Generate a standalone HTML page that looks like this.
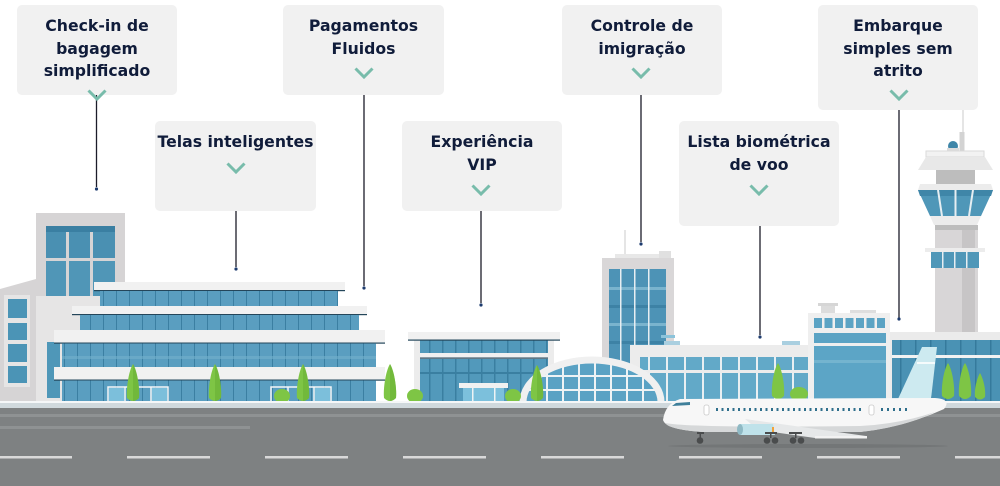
<!DOCTYPE html>
<html><head><meta charset="utf-8">
<style>
html,body{margin:0;padding:0;background:#fff;}
#w{position:relative;width:1000px;height:486px;overflow:hidden;background:#fff;}
#art{position:absolute;left:0;top:0;}
.box{position:absolute;background:#f1f1f1;border-radius:5px;}
.t{position:absolute;font-family:"DejaVu Sans",Verdana,"Liberation Sans",sans-serif;font-weight:bold;font-size:15.7px;line-height:22.5px;color:#101c3a;text-align:center;white-space:nowrap;}
.chev{position:absolute;width:20px;height:12px;}
</style></head>
<body><div id="w">
<svg id="art" width="1000" height="486" viewBox="0 0 1000 486" xmlns="http://www.w3.org/2000/svg">
<defs>
<pattern id="gA" width="13" height="40" patternUnits="userSpaceOnUse"><rect width="13" height="40" fill="#5a9ec0"/><rect x="12" width="1.2" height="40" fill="#3b7fa2"/></pattern>
<pattern id="gB" width="18" height="40" patternUnits="userSpaceOnUse"><rect width="18" height="40" fill="#62a9c8"/><rect width="2" height="40" fill="#e9eff2"/></pattern>
<pattern id="gC" width="15" height="40" patternUnits="userSpaceOnUse"><rect width="15" height="40" fill="#4a92b4"/><rect width="1.5" height="40" fill="#357a9c"/></pattern>
<pattern id="gD" width="13" height="40" patternUnits="userSpaceOnUse"><rect width="13" height="40" fill="#5299bb"/><rect width="1.5" height="40" fill="#3a7fa1"/></pattern>
<clipPath id="domeClip"><path d="M526,402 A66 39 0 0 1 658,402 Z"/></clipPath>
</defs>

<!-- control tower -->
<line x1="963" y1="110" x2="963" y2="133" stroke="#dcdcdc" stroke-width="1.5"/>
<rect x="959.5" y="132" width="5" height="20" fill="#d3d3d3"/>
<circle cx="953" cy="146" r="5" fill="#3f86a8"/>
<rect x="947" y="148" width="12" height="4" fill="#dcdcdc"/>
<rect x="926" y="151" width="58" height="6" fill="#f2f2f2" stroke="#dadada" stroke-width="1"/>
<polygon points="926,157 985,157 993,170 918,170" fill="#e8e8e8"/>
<rect x="936" y="170" width="39" height="14" fill="#bdbdbd"/>
<polygon points="920,184 991,184 993,190 918,190" fill="#ececec"/>
<polygon points="918,190 993,190 981,216 930,216" fill="#4f97b8"/>
<polygon points="918,190 993,190 991,196 920,196" fill="#3f86a8"/>
<line x1="938" y1="190" x2="942" y2="216" stroke="#e6eef2" stroke-width="2"/>
<line x1="955.5" y1="190" x2="955.5" y2="216" stroke="#e6eef2" stroke-width="2"/>
<line x1="973" y1="190" x2="969" y2="216" stroke="#e6eef2" stroke-width="2"/>
<polygon points="930,216 981,216 977,225 934,225" fill="#ececec"/>
<rect x="935" y="225" width="43" height="112" fill="#d8d6d7"/>
<rect x="962" y="230" width="13" height="107" fill="#c7c5c6"/>
<rect x="935" y="225" width="43" height="5" fill="#bdbdbd"/>
<rect x="925" y="248" width="60" height="4" fill="#ececec"/>
<rect x="931" y="252" width="48" height="16" fill="#4f97b8"/>
<rect x="942" y="252" width="1.5" height="16" fill="#e6eef2"/>
<rect x="954" y="252" width="1.5" height="16" fill="#e6eef2"/>
<rect x="966" y="252" width="1.5" height="16" fill="#e6eef2"/>

<!-- tower B -->
<line x1="625" y1="230" x2="625" y2="254" stroke="#dcdcdc" stroke-width="1.5"/>
<rect x="602" y="258" width="72" height="144" fill="#d9d7d8"/>
<rect x="615" y="254" width="44" height="4" fill="#e8e8e8"/>
<rect x="659" y="251" width="12" height="7" fill="#e0e0e0"/>
<rect x="609" y="269" width="57" height="133" fill="#4d93b6"/>
<rect x="609" y="287" width="57" height="3" fill="#7ab4ce"/>
<rect x="609" y="305" width="57" height="3" fill="#3d82a5"/>
<rect x="609" y="323" width="57" height="3" fill="#7ab4ce"/>
<rect x="609" y="341" width="57" height="3" fill="#3d82a5"/>
<rect x="620" y="269" width="1.5" height="133" fill="#e6eef2"/>
<rect x="634" y="269" width="1.5" height="133" fill="#e6eef2"/>
<rect x="648" y="269" width="1.5" height="133" fill="#e6eef2"/>
<rect x="661" y="335" width="14" height="3" fill="#8cc3da"/>

<!-- left small building -->
<polygon points="0,289 36,279 36,402 0,402" fill="#d6d4d5"/>
<rect x="4" y="295" width="26" height="92" fill="#e6e5e5"/>
<rect x="8" y="299" width="19" height="19" fill="#4b94b6"/>
<rect x="8" y="323" width="19" height="17" fill="#4b94b6"/>
<rect x="8" y="344" width="19" height="18" fill="#4b94b6"/>
<rect x="8" y="366" width="19" height="17" fill="#4b94b6"/>

<!-- tower A -->
<rect x="36" y="213" width="89" height="189" fill="#d6d4d5"/>
<rect x="36" y="296" width="64" height="106" fill="#e6e5e5"/>
<rect x="46" y="226" width="20" height="32" fill="#4a90b2"/>
<rect x="69" y="226" width="21" height="32" fill="#4a90b2"/>
<rect x="93" y="226" width="22" height="32" fill="#4a90b2"/>
<rect x="46" y="261" width="20" height="35" fill="#5096b7"/>
<rect x="69" y="261" width="21" height="35" fill="#5096b7"/>
<rect x="93" y="261" width="22" height="35" fill="#5096b7"/>
<rect x="46" y="226" width="69" height="6" fill="#3a7fa2"/>
<rect x="47" y="342" width="13" height="56" fill="#4f97b8"/>

<!-- terrace building -->
<rect x="94" y="282" width="251" height="9" fill="#f1f1f1"/>
<rect x="94" y="290" width="251" height="1.2" fill="#24465a"/>
<rect x="100" y="291" width="238" height="15" fill="url(#gA)"/>
<rect x="72" y="306" width="295" height="9" fill="#f1f1f1"/>
<rect x="72" y="314" width="295" height="1.2" fill="#24465a"/>
<rect x="80" y="315" width="279" height="15" fill="url(#gA)"/>
<rect x="54" y="330" width="331" height="13" fill="#f1f1f1"/>
<rect x="54" y="342.5" width="331" height="1.2" fill="#24465a"/>
<rect x="62" y="343.5" width="314" height="24" fill="url(#gA)"/>
<rect x="62" y="356" width="314" height="3" fill="#73b0cc" opacity="0.6"/>
<rect x="54" y="367" width="331" height="13" fill="#f1f1f1"/>
<rect x="54" y="379.5" width="331" height="1.2" fill="#24465a"/>
<rect x="62" y="380.5" width="314" height="22" fill="url(#gA)"/>
<g fill="none" stroke="#f4f6f7" stroke-width="1.5">
<rect x="108" y="387" width="60" height="16"/><line x1="125" y1="387" x2="125" y2="402"/><line x1="151" y1="387" x2="151" y2="402"/>
<rect x="271" y="387" width="60" height="16"/><line x1="288" y1="387" x2="288" y2="402"/><line x1="314" y1="387" x2="314" y2="402"/>
</g>
<rect x="109" y="388" width="15" height="14" fill="#7cbfdb"/>
<rect x="152" y="388" width="15" height="14" fill="#7cbfdb"/>
<rect x="315" y="388" width="15" height="14" fill="#7cbfdb"/>

<!-- VIP building -->
<rect x="414" y="340" width="140" height="62" fill="#ececec"/>
<rect x="420" y="340" width="128" height="13" fill="url(#gD)"/>
<rect x="420" y="353" width="128" height="5" fill="#f0f0f0"/>
<rect x="420" y="357.5" width="128" height="1.2" fill="#24465a"/>
<rect x="420" y="359" width="128" height="43" fill="url(#gD)"/>
<rect x="420" y="372" width="128" height="2" fill="#3a7fa1"/>
<rect x="408" y="332" width="152" height="8" fill="#f1f1f1"/>
<rect x="408" y="339.5" width="152" height="1.2" fill="#24465a"/>
<rect x="459" y="383" width="49" height="5" fill="#f1f1f1"/>
<rect x="463" y="388" width="41" height="14" fill="#7cc0dc"/>
<rect x="472" y="388" width="1.5" height="14" fill="#eef3f5"/>
<rect x="494" y="388" width="1.5" height="14" fill="#eef3f5"/>

<!-- long building -->
<rect x="630" y="345" width="180" height="57" fill="#ececec"/>
<rect x="640" y="357" width="170" height="13" fill="url(#gB)"/>
<rect x="640" y="373" width="170" height="29" fill="url(#gB)"/>
<rect x="664" y="341" width="16" height="4" fill="#a9cfe0"/>
<rect x="782" y="341" width="18" height="4" fill="#a9cfe0"/>

<!-- center block -->
<rect x="808" y="313" width="82" height="89" fill="#efefef"/>
<rect x="818" y="303" width="20" height="3" fill="#d6d6d6"/>
<rect x="821" y="306" width="14" height="7" fill="#dcdcdc"/>
<rect x="850" y="310" width="26" height="3" fill="#dedede"/>
<g fill="#5ba3c4">
<rect x="814" y="318" width="8" height="10"/><rect x="824.5" y="318" width="8" height="10"/><rect x="835" y="318" width="8" height="10"/><rect x="845.5" y="318" width="8" height="10"/><rect x="856" y="318" width="8" height="10"/><rect x="866.5" y="318" width="8" height="10"/><rect x="877" y="318" width="8" height="10"/>
<rect x="814" y="333" width="72" height="10"/>
</g>
<rect x="814" y="346" width="72" height="56" fill="#5ca5c6"/>
<rect x="814" y="360" width="72" height="3" fill="#7fbad3" opacity="0.7"/>

<!-- right building -->
<rect x="890" y="332" width="110" height="70" fill="#ebebeb"/>
<rect x="892" y="340" width="108" height="15" fill="url(#gC)"/>
<rect x="892" y="355" width="108" height="3" fill="#f2f2f2"/>
<rect x="892" y="358" width="108" height="44" fill="url(#gC)"/>

<!-- dome -->
<g clip-path="url(#domeClip)">
<rect x="520" y="355" width="145" height="48" fill="#5aa2c4"/>
<g fill="#eef3f5">
<rect x="546" y="355" width="2" height="48"/><rect x="562" y="355" width="2" height="48"/><rect x="578" y="355" width="2" height="48"/><rect x="594" y="355" width="2" height="48"/><rect x="610" y="355" width="2" height="48"/><rect x="626" y="355" width="2" height="48"/><rect x="642" y="355" width="2" height="48"/>
<rect x="520" y="375" width="145" height="2"/><rect x="520" y="389" width="145" height="2"/>
</g>
</g>
<path d="M523,402 A69 42 0 0 1 661,402" fill="none" stroke="#f0f0f0" stroke-width="7"/>

<!-- trees -->
<g fill="#7ec545">
<path d="M133,364 C137,370 140,388 139,398 Q133,404 127,398 C126,388 129,370 133,364Z"/>
<path d="M215,364 C219,370 222,388 221,398 Q215,404 209,398 C208,388 211,370 215,364Z"/>
<path d="M303,364 C307,370 310,388 309,398 Q303,404 297,398 C296,388 299,370 303,364Z"/>
<path d="M390,364 C394,370 397,388 396,398 Q390,404 384,398 C383,388 386,370 390,364Z"/>
<path d="M537,365 C541,371 544,388 543,398 Q537,404 531,398 C530,388 533,371 537,365Z"/>
<path d="M778,363 C782,369 785,386 784,396 Q778,402 772,396 C771,386 774,369 778,363Z"/>
<path d="M948,363 C952,369 955,386 954,396 Q948,402 942,396 C941,386 944,369 948,363Z"/>
<path d="M965,363 C969,369 972,386 971,396 Q965,402 959,396 C958,386 961,369 965,363Z"/>
<path d="M980,373 C983,378 986,389 985,397 Q980,402 975,397 C974,389 977,378 980,373Z"/>
<ellipse cx="282" cy="396" rx="8" ry="7"/>
<ellipse cx="415" cy="396" rx="8" ry="7"/>
<ellipse cx="513" cy="396" rx="8" ry="7"/>
<ellipse cx="799" cy="394" rx="9" ry="7"/>
</g>
<g fill="#66ad32" opacity="0.5">
<path d="M133,364 C137,370 140,388 139,398 Q136,401 133,401Z"/>
<path d="M215,364 C219,370 222,388 221,398 Q218,401 215,401Z"/>
<path d="M303,364 C307,370 310,388 309,398 Q306,401 303,401Z"/>
<path d="M390,364 C394,370 397,388 396,398 Q393,401 390,401Z"/>
<path d="M537,365 C541,371 544,388 543,398 Q540,401 537,401Z"/>
</g>

<!-- ground / road -->
<rect x="0" y="401" width="1000" height="2" fill="#f5f7f8"/>
<rect x="0" y="403" width="1000" height="5" fill="#d0d9dd"/>
<rect x="0" y="408" width="1000" height="78" fill="#7e8182"/>
<rect x="0" y="414" width="1000" height="3" fill="#8f9293"/>
<rect x="0" y="426" width="250" height="3" fill="#8f9293"/>
<g fill="#d9d9d9">
<rect x="-11" y="456" width="83" height="2.5"/><rect x="127" y="456" width="83" height="2.5"/><rect x="265" y="456" width="83" height="2.5"/><rect x="403" y="456" width="83" height="2.5"/><rect x="541" y="456" width="83" height="2.5"/><rect x="679" y="456" width="83" height="2.5"/><rect x="817" y="456" width="83" height="2.5"/><rect x="955" y="456" width="83" height="2.5"/>
</g>

<!-- plane -->
<ellipse cx="808" cy="446" rx="140" ry="2" fill="#737677"/>
<polygon points="898,399 922,347 937,347 931,399" fill="#cdeaf0"/>
<rect x="917" y="362" width="18" height="2" fill="#f5fbfc"/>
<path d="M680,399 L935,398 Q952,399 944,409 Q905,427 860,432 L705,432 Q666,430 663,420 Q665,404 680,399Z" fill="#f7f7f7"/>
<path d="M665,423 Q690,428 860,426 Q900,424 935,412 Q905,427 860,432 L705,432 Q670,430 665,423Z" fill="#d6d8d9"/>
<path d="M676,403 L690,402 L690,405 L672,406Z" fill="#3f7f9a"/>
<rect x="704" y="405" width="5" height="10" rx="2" fill="#fff" stroke="#c9c9c9" stroke-width="0.8"/>
<rect x="869" y="405" width="5" height="10" rx="2" fill="#fff" stroke="#c9c9c9" stroke-width="0.8"/>
<g fill="#2f6f8c">
<rect x="716" y="408" width="2" height="3"/><rect x="721.5" y="408" width="2" height="3"/><rect x="727" y="408" width="2" height="3"/><rect x="732.5" y="408" width="2" height="3"/><rect x="738" y="408" width="2" height="3"/><rect x="743.5" y="408" width="2" height="3"/><rect x="749" y="408" width="2" height="3"/><rect x="754.5" y="408" width="2" height="3"/><rect x="760" y="408" width="2" height="3"/><rect x="765.5" y="408" width="2" height="3"/><rect x="771" y="408" width="2" height="3"/><rect x="776.5" y="408" width="2" height="3"/><rect x="782" y="408" width="2" height="3"/><rect x="787.5" y="408" width="2" height="3"/><rect x="793" y="408" width="2" height="3"/><rect x="798.5" y="408" width="2" height="3"/><rect x="804" y="408" width="2" height="3"/><rect x="809.5" y="408" width="2" height="3"/><rect x="815" y="408" width="2" height="3"/><rect x="820.5" y="408" width="2" height="3"/><rect x="826" y="408" width="2" height="3"/><rect x="831.5" y="408" width="2" height="3"/><rect x="837" y="408" width="2" height="3"/><rect x="842.5" y="408" width="2" height="3"/><rect x="848" y="408" width="2" height="3"/><rect x="853.5" y="408" width="2" height="3"/><rect x="859" y="408" width="2" height="3"/>
<rect x="881" y="408" width="2" height="3"/><rect x="887" y="408" width="2" height="3"/><rect x="893" y="408" width="2" height="3"/><rect x="899" y="408" width="2" height="3"/><rect x="905" y="408" width="2" height="3"/>
</g>
<polygon points="745,419 830,431 866,436 866,438 815,438 758,430" fill="#e6e8e9"/>
<rect x="815" y="436" width="52" height="2.5" fill="#f2f2f2"/>
<path d="M740,424 L773,424 L775,435 L740,435 Q736,430 740,424Z" fill="#bfe2ea"/>
<ellipse cx="740" cy="429.5" rx="3" ry="5.5" fill="#8fb9c4"/>
<rect x="772" y="427" width="2" height="5" fill="#f2a23a"/>
<g fill="#4a4c4d">
<rect x="697" y="432" width="7" height="2"/><rect x="765" y="432" width="12" height="2"/><rect x="789" y="432" width="13" height="2"/>
<rect x="699.5" y="433" width="1.5" height="5"/><rect x="770" y="433" width="1.5" height="5"/><rect x="795" y="433" width="1.5" height="5"/>
<circle cx="700" cy="440.5" r="3.3"/><circle cx="767" cy="440.5" r="3.3"/><circle cx="775" cy="440.5" r="3.3"/><circle cx="793" cy="440.5" r="3.3"/><circle cx="801" cy="440.5" r="3.3"/>
</g>

<!-- connectors -->
<g stroke="#1c1c2a" stroke-width="1.3">
<line x1="96.5" y1="95" x2="96.5" y2="187"/>
<line x1="236" y1="211" x2="236" y2="267"/>
<line x1="364" y1="95" x2="364" y2="286"/>
<line x1="481" y1="211" x2="481" y2="303"/>
<line x1="641" y1="95" x2="641" y2="242"/>
<line x1="760" y1="226" x2="760" y2="335"/>
<line x1="899" y1="110" x2="899" y2="318"/>
</g>
<g fill="#1d3b6e">
<circle cx="96.5" cy="189" r="1.6"/><circle cx="236" cy="269" r="1.6"/><circle cx="364" cy="288" r="1.6"/><circle cx="481" cy="305" r="1.6"/><circle cx="641" cy="244" r="1.6"/><circle cx="760" cy="337" r="1.6"/><circle cx="899" cy="319" r="1.6"/>
</g>
</svg>

<div class="box" style="left:17px;top:5px;width:160px;height:90px;"></div>
<div class="t" style="left:17px;top:15.3px;width:160px;">Check-in de<br>bagagem<br>simplificado</div>

<div class="box" style="left:155px;top:121px;width:161px;height:90px;"></div>
<div class="t" style="left:155px;top:131.3px;width:161px;">Telas inteligentes</div>

<div class="box" style="left:283px;top:5px;width:161px;height:90px;"></div>
<div class="t" style="left:283px;top:15.3px;width:161px;">Pagamentos<br>Fluidos</div>

<div class="box" style="left:402px;top:121px;width:160px;height:90px;"></div>
<div class="t" style="left:402px;top:131.3px;width:160px;">Experiência<br>VIP</div>

<div class="box" style="left:562px;top:5px;width:160px;height:90px;"></div>
<div class="t" style="left:562px;top:15.3px;width:160px;">Controle de<br>imigração</div>

<div class="box" style="left:679px;top:121px;width:160px;height:105px;"></div>
<div class="t" style="left:679px;top:131.3px;width:160px;">Lista biométrica<br>de voo</div>

<div class="box" style="left:818px;top:5px;width:160px;height:105px;"></div>
<div class="t" style="left:818px;top:15.3px;width:160px;">Embarque<br>simples sem<br>atrito</div>

<svg class="chev" style="left:86.5px;top:89px;" viewBox="0 0 20 12"><polyline points="1.5,1.5 10,10 18.5,1.5" fill="none" stroke="#78bcab" stroke-width="3"/></svg>
<svg class="chev" style="left:226px;top:162px;" viewBox="0 0 20 12"><polyline points="1.5,1.5 10,10 18.5,1.5" fill="none" stroke="#78bcab" stroke-width="3"/></svg>
<svg class="chev" style="left:354px;top:67px;" viewBox="0 0 20 12"><polyline points="1.5,1.5 10,10 18.5,1.5" fill="none" stroke="#78bcab" stroke-width="3"/></svg>
<svg class="chev" style="left:471px;top:184px;" viewBox="0 0 20 12"><polyline points="1.5,1.5 10,10 18.5,1.5" fill="none" stroke="#78bcab" stroke-width="3"/></svg>
<svg class="chev" style="left:631px;top:67px;" viewBox="0 0 20 12"><polyline points="1.5,1.5 10,10 18.5,1.5" fill="none" stroke="#78bcab" stroke-width="3"/></svg>
<svg class="chev" style="left:749px;top:184px;" viewBox="0 0 20 12"><polyline points="1.5,1.5 10,10 18.5,1.5" fill="none" stroke="#78bcab" stroke-width="3"/></svg>
<svg class="chev" style="left:889px;top:89px;" viewBox="0 0 20 12"><polyline points="1.5,1.5 10,10 18.5,1.5" fill="none" stroke="#78bcab" stroke-width="3"/></svg>
</div></body></html>
